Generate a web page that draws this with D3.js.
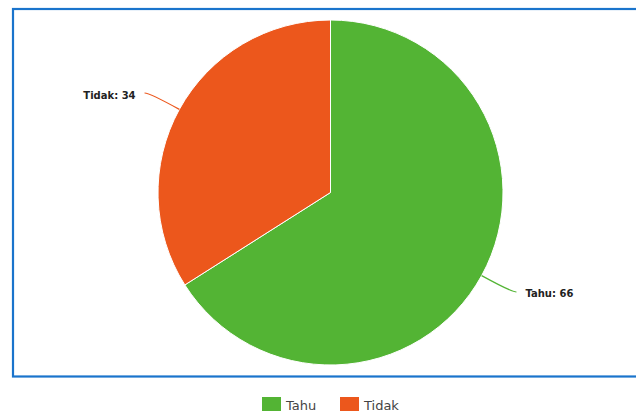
<!DOCTYPE html>
<html>
<head>
<meta charset="utf-8">
<script src="https://cdn.jsdelivr.net/npm/d3@7"></script>
<style>
  html, body { margin: 0; padding: 0; background: #fff; }
  svg { display: block; }
</style>
</head>
<body>
<svg id="chart" width="636" height="412"></svg>
<script>
// Survey answers
const categories = ["Tahu", "Tidak"];
const values = [66, 34];
const colors = ["#53b434", "#ec571c"];

const svg = d3.select("#chart");

// Frame around the plot area (open on the right)
svg.append("rect")
  .attr("x", 13).attr("y", 9)
  .attr("width", 640).attr("height", 367.5)
  .attr("fill", "none")
  .attr("stroke", "#1a74cc")
  .attr("stroke-width", 2.2);

const cx = 330.5, cy = 192.5, r = 172.5;
const g = svg.append("g").attr("transform", `translate(${cx},${cy})`);

const pie = d3.pie().sort(null).value(d => d.value);
const data = categories.map((c, i) => ({ name: c, value: values[i], color: colors[i] }));
const arcs = pie(data);
const arc = d3.arc().innerRadius(0).outerRadius(r);

g.selectAll("path.slice")
  .data(arcs)
  .enter().append("path")
  .attr("class", "slice")
  .attr("d", arc)
  .attr("fill", d => d.data.color)
  .attr("stroke", "#fff")
  .attr("stroke-width", 1);

// Leader lines and labels
arcs.forEach(d => {
  const mid = (d.startAngle + d.endAngle) / 2;
  const sx = Math.sin(mid), sy = -Math.cos(mid);
  const p0 = [r * sx, r * sy];
  const ext = 34;
  const pc = [(r + ext) * sx, (r + ext) * sy];
  const side = sx >= 0 ? 1 : -1;
  const p1 = [pc[0] + side * 5, pc[1]];
  g.append("path")
    .attr("d", `M${p0[0]},${p0[1]} Q${pc[0]},${pc[1]} ${p1[0]},${p1[1]}`)
    .attr("fill", "none")
    .attr("stroke", d.data.color)
    .attr("stroke-width", 1.2);
  g.append("text")
    .attr("x", p1[0] + side * 9)
    .attr("y", p1[1] + 5.5)
    .attr("text-anchor", side > 0 ? "start" : "end")
    .attr("font-family", "DejaVu Sans, sans-serif")
    .attr("font-weight", "bold")
    .attr("font-size", 10)
    .attr("fill", "#222")
    .text(`${d.data.name}: ${d.data.value}`);
});

// Legend
const legendX = [262, 340];
const legend = svg.append("g");
data.forEach((d, i) => {
  legend.append("rect")
    .attr("x", legendX[i]).attr("y", 397)
    .attr("width", 19).attr("height", 14)
    .attr("fill", d.color);
  legend.append("text")
    .attr("x", legendX[i] + 24).attr("y", 410)
    .attr("font-family", "DejaVu Sans, sans-serif")
    .attr("font-size", 13)
    .attr("fill", "#444")
    .text(d.name);
});
</script>
</body>
</html>
